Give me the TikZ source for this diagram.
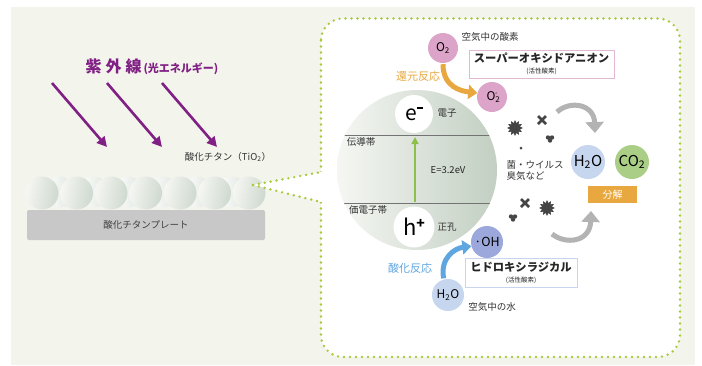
\documentclass[tikz,border=0pt]{standalone}
\usepackage{fontspec}
\setmainfont{Noto Sans CJK JP}
\usetikzlibrary{arrows.meta,shapes.geometric}

\definecolor{bgbeige}{HTML}{F3F4EC}
\definecolor{uvpurple}{HTML}{801F84}
\definecolor{dotgreen}{HTML}{A9C93E}
\definecolor{pinkball}{HTML}{DDA4CA}
\definecolor{pinkline}{HTML}{E2B8D3}
\definecolor{blueball}{HTML}{C6D6EF}
\definecolor{blueline}{HTML}{C9D5EE}
\definecolor{ohball}{HTML}{9CA8DB}
\definecolor{co2ball}{HTML}{ABCE87}
\definecolor{orangearr}{HTML}{E8A83F}
\definecolor{bluearr}{HTML}{5FA6E0}
\definecolor{grayarr}{HTML}{B3B3B3}
\definecolor{plategray}{HTML}{C8C8C8}
\definecolor{inkgray}{HTML}{333333}
\definecolor{germgray}{HTML}{454545}
\definecolor{bandgreen}{HTML}{8DC04B}
\definecolor{cellight}{HTML}{F6F7F3}
\definecolor{celdark}{HTML}{C2CFC2}

\begin{document}
\begin{tikzpicture}[x=1pt, y=-1pt,
    lbl/.style={font=\fontsize{9.5}{11}\selectfont, text=inkgray, inner sep=0pt},
    ball/.style={circle, inner sep=0pt, minimum size=#1},
    uvarrow/.style={uvpurple, line width=2.6pt, -{Triangle[length=10pt,width=10pt]}},
    bendarrow/.style={line width=5pt, -{Triangle[length=9pt,width=14pt]}},
    dotline/.style={draw=dotgreen, line width=2.7pt, line cap=round, dash pattern=on 0pt off 6pt},
    tagbox/.style={draw, line width=0.9pt, fill=white, align=center, inner sep=0pt, text=black!85},
    germ/.style={star, star points=12, star point ratio=1.55, fill=germgray, inner sep=0pt, minimum size=16pt},
    xmark/.style={germgray, line width=2.8pt},
]

    % Canvas
    \useasboundingbox (0,0) rectangle (702,365);
    \fill[bgbeige] (11,7) rectangle (695,365);

    % Ultraviolet light
    \node[text=uvpurple, inner sep=0pt] (uvtitle) at (152,67)
        {\bfseries\fontsize{16}{16}\selectfont 紫\hspace{4pt}外\hspace{4pt}線\hspace{2pt}\fontsize{11}{11}\selectfont(光エネルギー)};
    \foreach \x [count=\i] in {52,107,162} {
        \coordinate (uvs\i) at (\x,83);
        \coordinate (uve\i) at (\x+55,147);
        \draw[uvarrow] (uvs\i) -- (uve\i);
    }
    \node[lbl] (tio2) at (228,157) {酸化チタン（TiO\textsubscript{2}）};

    % Titanium oxide particles and plate
    \foreach \i in {0,...,5}
        \shade[left color=white, right color=celdark!55] (59.25+34.5*\i,192) circle (15.5);
    \foreach \i in {0,...,6}
        \shade[left color=cellight, right color=celdark!80, shading angle=80] (42+34.5*\i,193) circle (16.5);
    \fill[plategray, rounded corners=2pt] (27,210) rectangle (265,240);
    \node[lbl, text=black!75] (plate) at (146,225) {酸化チタンプレート};

    % Close-up frame
    \path[fill=white, dotline, rounded corners=22pt] (321,18.5) rectangle (680,357);
    \coordinate (tip) at (253,185);
    \coordinate (wtop) at (321,172);
    \coordinate (wbot) at (321,202);
    \fill[white] (tip) -- (323,171.6) -- (323,202.4) -- cycle;
    \draw[dotline] (tip) -- (wtop);
    \draw[dotline] (tip) -- (wbot);

    % Band diagram
    \shade[left color=cellight, right color=celdark] (417,170) circle (80);
    \begin{scope}
        \clip (417,170) circle (80);
        \draw[black!55, line width=0.8pt] (330,135) -- (500,135);
        \draw[black!55, line width=0.8pt] (330,203) -- (500,203);
    \end{scope}
    \node[lbl] (cband) at (361,142) {伝導帯};
    \node[lbl] (vband) at (368,210) {価電子帯};
    \node[ball=38pt, fill=white] (elec) at (414,114)
        {\fontsize{21}{21}\selectfont e\raisebox{11pt}{\rule{6pt}{2.2pt}}};
    \node[ball=41pt, fill=white] (hole) at (414,227)
        {\fontsize{22}{22}\selectfont h\raisebox{7pt}{\bfseries\fontsize{14}{14}\selectfont +}};
    \node[lbl] (elbl) at (447,113) {電子};
    \node[lbl] (hlbl) at (447,227) {正孔};
    \coordinate (vb) at (415,202);
    \coordinate (cb) at (415,137);
    \draw[bandgreen, line width=1.6pt, -{Triangle[length=7pt,width=7pt]}] (vb) -- (cb);
    \node[lbl, text=black!85] (gap) at (448,170) {\fontsize{9.5}{11}\selectfont E=3.2eV};

    % Reduction side
    \node[ball=30pt, fill=pinkball] (o2) at (443,48) {\fontsize{12}{12}\selectfont O\textsubscript{2}};
    \node[lbl] (air) at (490,37) {空気中の酸素};
    \node[tagbox, draw=pinkline, minimum width=145pt, minimum height=28pt] (superox) at (541.5,64)
        {\bfseries\fontsize{11.3}{12}\selectfont スーパーオキシドアニオン\\[-1pt]{\fontsize{6.5}{7}\selectfont (活性酸素)}};
    \node[ball=30pt, fill=pinkball] (o2m) at (492,97)
        {\fontsize{12}{12}\selectfont O\textsubscript{2}\kern-0.45em\raisebox{5pt}{\fontsize{7}{7}\selectfont -}};
    \draw[bendarrow, orangearr, shorten <=1pt] (o2.south) .. controls +(0,24) and +(-16,-2) .. (o2m.165);
    \node[text=orangearr, inner sep=0pt] (redox) at (418,76) {\fontsize{11}{12}\selectfont 還元反応};

    % Oxidation side
    \node[ball=32pt, fill=ohball] (oh) at (487,242) {\fontsize{12.5}{13}\selectfont ·OH};
    \node[tagbox, draw=blueline, minimum width=112pt, minimum height=29pt] (hydrox) at (521,272.5)
        {\bfseries\fontsize{11.3}{12}\selectfont ヒドロキシラジカル\\[-1pt]{\fontsize{6.5}{7}\selectfont (活性酸素)}};
    \node[ball=32pt, fill=blueball] (h2ol) at (448,295) {\fontsize{12}{12}\selectfont H\textsubscript{2}O};
    \node[lbl] (water) at (492,307) {空気中の水};
    \draw[bendarrow, bluearr, shorten <=1pt] (h2ol.105) .. controls +(-4,-22) and +(-16,2) .. (oh.195);
    \node[text=bluearr, inner sep=0pt] (oxid) at (410,268) {\fontsize{11}{12}\selectfont 酸化反応};

    % Germs and odours
    \node[germ] (germa) at (515,128) {};
    \node[germ] (germb) at (547,208) {};
    \foreach \gx/\gy in {542/120, 525/203} {
        \draw[xmark] (\gx-4,\gy-4) -- (\gx+4,\gy+4);
        \draw[xmark] (\gx-4,\gy+4) -- (\gx+4,\gy-4);
    }
    \foreach \gx/\gy in {550/139, 513/218} {
        \fill[germgray] (\gx-2,\gy-1.5) circle (2.2);
        \fill[germgray] (\gx+2,\gy-1.5) circle (2.2);
        \fill[germgray] (\gx,\gy+1.5) circle (2.2);
    }
    \fill[germgray] (521,148) circle (1.5);
    \node[lbl, align=left] (germlbl) at (535,170) {菌・ウイルス\\臭気など};

    % Decomposition
    \coordinate (gta) at (557,112);
    \coordinate (gtb) at (595,133);
    \draw[grayarr, line width=5pt, -{Triangle[length=11pt,width=18pt]}] (gta) .. controls (570,100) and (594,104) .. (gtb);
    \coordinate (gba) at (552,234);
    \coordinate (gbb) at (591,211);
    \draw[grayarr, line width=5pt, -{Triangle[length=11pt,width=18pt]}] (gba) .. controls (566,245) and (590,242) .. (gbb);
    \node[ball=34pt, fill=blueball] (h2or) at (588,162) {\fontsize{15}{15}\selectfont H\textsubscript{2}O};
    \node[ball=34pt, fill=co2ball] (co2) at (632,162) {\fontsize{15}{15}\selectfont CO\textsubscript{2}};
    \node[fill=orangearr, text=white, minimum width=49pt, minimum height=17pt, inner sep=0pt] (decomp) at (612.5,194.5)
        {\fontsize{10}{11}\selectfont 分解};

\end{tikzpicture}
\end{document}
